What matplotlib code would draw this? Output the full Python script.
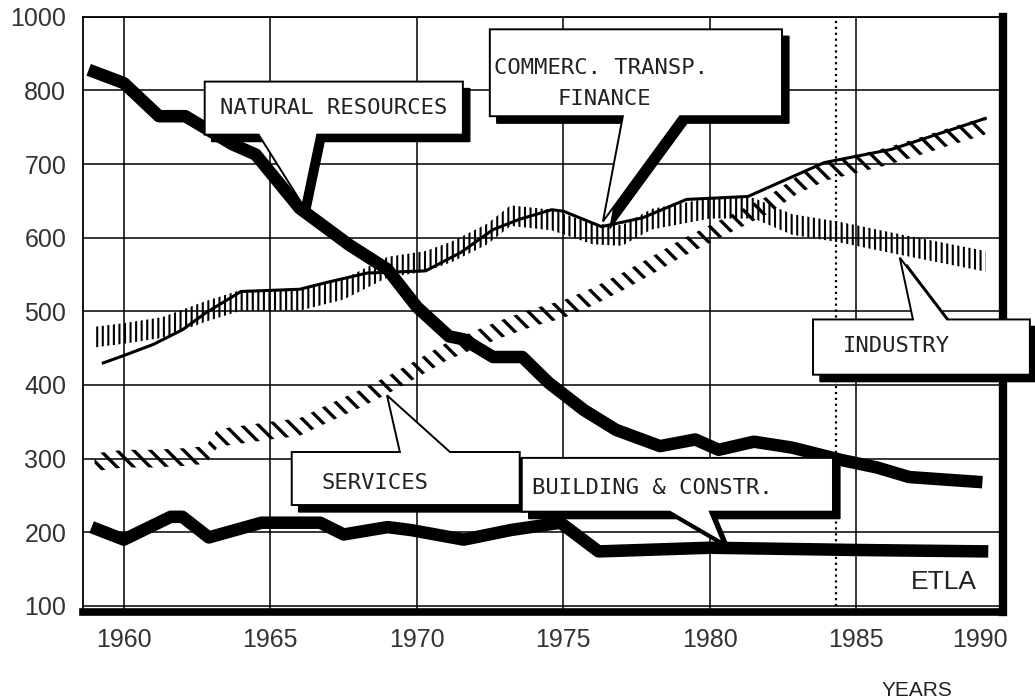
import matplotlib
matplotlib.use('Agg')
import matplotlib.pyplot as plt
import matplotlib.transforms as mtransforms
from matplotlib.patches import Polygon

# values (index, approximate)
nat_years = [1958.8, 1960, 1961.2, 1962.1, 1963.7, 1964.5, 1966, 1967.7, 1969, 1970,
             1971.1, 1971.6, 1972.6, 1973.6, 1974.5, 1975.7, 1976.8, 1978.3, 1979.5,
             1980.3, 1981.5, 1982.8, 1984.5, 1985.7, 1986.8, 1989.3]
nat_vals = [828, 810, 765, 765, 727, 713, 640, 590, 557, 506,
            466, 462, 438, 438, 403, 366, 339, 317, 326,
            312, 323, 315, 298, 288, 275, 268]

com_years = [1959.3, 1960, 1961, 1962, 1962.8, 1964, 1966, 1967, 1968.3, 1970.3,
             1971.5, 1972.6, 1973.5, 1974.6, 1975, 1976.3, 1977.7, 1979.2, 1981.3,
             1983.9, 1986.2, 1989.4]
com_vals = [430, 440, 455, 475, 498, 527, 530, 540, 552, 555,
            580, 611, 625, 638, 636, 615, 627, 652, 656,
            702, 720, 762]

ind_years = [1959, 1960, 1961.3, 1962.8, 1964, 1966, 1967.5, 1969, 1970.3, 1971.2,
             1972.4, 1973.2, 1974.6, 1976, 1977, 1978, 1980, 1981.5, 1982.8,
             1984.5, 1986.2, 1989.4]
ind_vals = [465, 470, 478, 500, 515, 515, 530, 560, 568, 581,
            605, 630, 624, 605, 603, 625, 640, 640, 618,
            607, 593, 568]

ser_years = [1959, 1960, 1961, 1962, 1962.8, 1963.2, 1965, 1966, 1967, 1968,
             1969, 1970, 1971, 1972, 1973, 1974, 1975, 1976, 1977, 1978,
             1979, 1980, 1981, 1982, 1983, 1984, 1985, 1986, 1987, 1988, 1989.4]
ser_vals = [295, 300, 300, 302, 305, 328, 338, 343, 362, 380,
            400, 422, 445, 462, 478, 492, 503, 520, 540, 562,
            585, 605, 625, 645, 672, 690, 700, 710, 722, 735, 752]

bld_years = [1958.9, 1960, 1961.6, 1962, 1962.9, 1964.7, 1966.7, 1967.5, 1969, 1969.8,
             1971.6, 1973.2, 1974.9, 1976.2, 1980, 1984.9, 1989.5]
bld_vals = [207, 190, 221, 221, 193, 213, 213, 197, 207, 203,
            190, 203, 213, 174, 179, 176, 174]

ytick_pos = [100, 200, 300, 400, 500, 600, 700, 800, 900]
ytick_lab = ['100', '200', '300', '400', '500', '600', '700', '800', '1000']
xtick_pos = [1960, 1965, 1970, 1975, 1980, 1985, 1990]

fig = plt.figure(figsize=(10.35, 7), dpi=100)
ax = fig.add_axes([0.080, 0.126, 0.889, 0.850])
ax.set_xlim(1958.6, 1990)
ax.set_ylim(92, 900)

ax.set_yticks(ytick_pos)
ax.set_yticklabels(ytick_lab)
ax.set_xticks(xtick_pos)
ax.set_xticklabels([str(y) for y in xtick_pos])
ax.tick_params(length=0, labelsize=18, colors='#333333', pad=12)
for lab in ax.get_yticklabels() + ax.get_xticklabels():
    lab.set_fontfamily('Liberation Sans')
last = ax.get_xticklabels()[-1]
last.set_transform(last.get_transform() +
                   mtransforms.ScaledTranslation(-0.23, 0, fig.dpi_scale_trans))

ax.grid(True, color='black', lw=1.1)
ax.set_axisbelow(True)
ax.axvline(1984.3, color='black', lw=1.6, ls=':', zorder=1)

ax.spines['left'].set_linewidth(1.3)
ax.spines['top'].set_linewidth(1.3)
ax.spines['right'].set_linewidth(6)
ax.spines['bottom'].set_linewidth(5.5)

# hatched bands
with plt.rc_context({'hatch.linewidth': 2.4}):
    ser_lo = [v - 12 for v in ser_vals]
    ser_hi = [v + 12 for v in ser_vals]
    ax.fill_between(ser_years, ser_lo, ser_hi, facecolor='none', edgecolor='black',
                    hatch='\\\\', lw=0, zorder=2)
with plt.rc_context({'hatch.linewidth': 1.5}):
    ind_lo = [v - 14 for v in ind_vals]
    ind_hi = [v + 14 for v in ind_vals]
    ax.fill_between(ind_years, ind_lo, ind_hi, facecolor='none', edgecolor='black',
                    hatch='|||', lw=0, zorder=2)

ax.plot(com_years, com_vals, color='black', lw=2.2, zorder=3)
ax.plot(nat_years, nat_vals, color='black', lw=9, solid_capstyle='butt',
        solid_joinstyle='round', zorder=3)
ax.plot(bld_years, bld_vals, color='black', lw=9, solid_capstyle='butt',
        solid_joinstyle='round', zorder=3)

shadow_tr = mtransforms.offset_copy(ax.transData, fig=fig, x=5, y=-5, units='points')


def callout(box, base, tip, side):
    x0, x1, y0, y1 = box
    b0, b1 = base
    if side == 'bottom':
        pts = [(x0, y1), (x1, y1), (x1, y0), (b1, y0), tip, (b0, y0), (x0, y0)]
    else:
        pts = [(x0, y1), (b0, y1), tip, (b1, y1), (x1, y1), (x1, y0), (x0, y0)]
    ax.add_patch(Polygon(pts, closed=True, fc='black', ec='black', lw=1,
                         transform=shadow_tr, clip_on=False, zorder=5))
    ax.add_patch(Polygon(pts, closed=True, fc='white', ec='black', lw=1.4,
                         joinstyle='miter', clip_on=False, zorder=6))


lab_font = dict(family='DejaVu Sans Mono', fontsize=16, color='#222222',
                ha='center', va='center', zorder=7)

callout((1962.76, 1971.57, 740, 812), (1964.6, 1966.6), (1966.1, 645), 'bottom')
ax.text(1967.15, 776, 'NATURAL RESOURCES', **lab_font)

callout((1972.49, 1982.46, 765, 883), (1977.03, 1978.98), (1976.35, 622), 'bottom')
ax.text(1976.3, 831, 'COMMERC. TRANSP.', **lab_font)
ax.text(1976.4, 788, 'FINANCE', **lab_font)

callout((1983.52, 1990.92, 414, 489), (1986.93, 1988.09), (1986.48, 573), 'top')
ax.text(1986.35, 453, 'INDUSTRY', **lab_font)

callout((1965.73, 1973.51, 237, 309), (1969.42, 1971.13), (1968.98, 386), 'top')
ax.text(1968.57, 267, 'SERVICES', **lab_font)

callout((1973.58, 1984.2, 228, 301), (1978.63, 1980.0), (1980.44, 186), 'bottom')
ax.text(1978.05, 260, 'BUILDING & CONSTR.', **lab_font)

ax.text(1988.0, 133, 'ETLA', family='Liberation Sans', fontsize=19,
        color='#222222', ha='center', va='center', zorder=4)
fig.text(917 / 1035, 1 - 690 / 700, 'YEARS', family='Liberation Sans',
         fontsize=15, color='#222222', ha='center', va='center')

fig.savefig('out.png', dpi=100)
